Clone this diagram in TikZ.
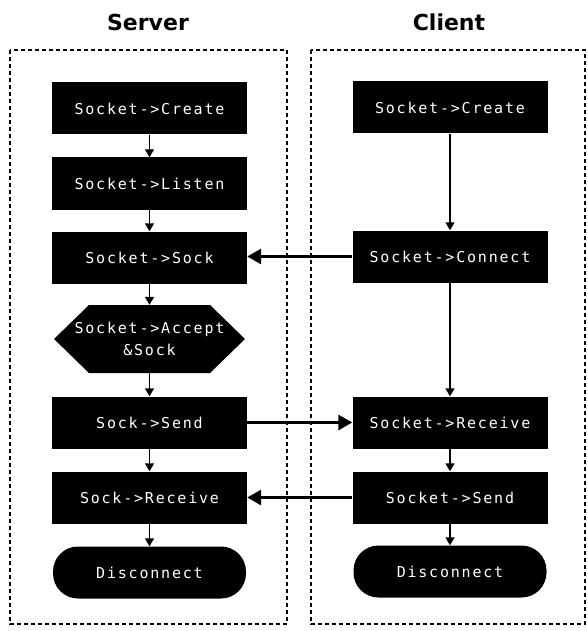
\documentclass[tikz,border=0pt]{standalone}
\usepackage{fontspec}
\usetikzlibrary{arrows.meta}
\newfontfamily\boxfont[LetterSpace=12]{DejaVu Sans Mono}
\newfontfamily\titlefont{DejaVu Sans}
\tikzset{
  stepbox/.style={fill=black, text=white, minimum width=195pt, minimum height=52pt, inner sep=0pt, align=center, font=\boxfont\fontsize{15pt}{17pt}\selectfont},
  endbox/.style={stepbox, rounded corners=25pt, minimum width=193pt},
  hexbox/.style={stepbox, fill=none, minimum width=191pt, minimum height=68pt, font=\boxfont\fontsize{15pt}{22pt}\selectfont},
  titletext/.style={font=\titlefont\bfseries\fontsize{22pt}{24pt}\selectfont},
  lane/.style={draw=black, dashed, dash pattern=on 4pt off 3pt, line width=1.1pt},
  flow/.style={line width=1.4pt, -{Triangle[length=8pt,width=9pt]}},
  msg/.style={line width=3pt, -{Triangle[length=14pt,width=15pt]}}
}
\begin{document}
\begin{tikzpicture}[x=1pt,y=-1pt]
\useasboundingbox (0,0) rectangle (587,631);
% lanes
\draw[lane] (10,50) rectangle (287,624);
\draw[lane] (311,50) rectangle (585,624);
\node[titletext] (tserver) at (148,22) {Server};
\node[titletext] (tclient) at (449,22) {Client};
% server
\node[stepbox] (screate) at (149.5,108.5) {Socket->Create};
\node[stepbox] (slisten) at (149.5,183.5) {Socket->Listen};
\node[stepbox] (ssock) at (149.5,257.5) {Socket->Sock};
\fill[black] (54,339) -- (89,305) -- (210,305) -- (245,339) -- (210,373) -- (89,373) -- cycle;
\node[hexbox] (saccept) at (149.5,339) {Socket->Accept\\\&Sock};
\node[stepbox] (ssend) at (149.5,422.5) {Sock->Send};
\node[stepbox] (srecv) at (149.5,497.5) {Sock->Receive};
\node[endbox] (sdisc) at (149.5,572.5) {Disconnect};
% client
\node[stepbox] (ccreate) at (450,107.5) {Socket->Create};
\node[stepbox] (cconn) at (450,256.5) {Socket->Connect};
\node[stepbox] (crecv) at (450,422.5) {Socket->Receive};
\node[stepbox] (csend) at (450,497.5) {Socket->Send};
\node[endbox] (cdisc) at (450,571.5) {Disconnect};
% flows
\draw[flow] (screate) -- (slisten);
\draw[flow] (slisten) -- (ssock);
\draw[flow] (ssock) -- (saccept);
\draw[flow] (saccept) -- (ssend);
\draw[flow] (ssend) -- (srecv);
\draw[flow] (srecv) -- (sdisc);
\draw[flow] (ccreate) -- (cconn);
\draw[flow] (cconn) -- (crecv);
\draw[flow] (crecv) -- (csend);
\draw[flow] (csend) -- (cdisc);
% messages
\draw[msg] (cconn.west) -- (cconn.west -| ssock.east);
\draw[msg] (ssend.east) -- (ssend.east -| crecv.west);
\draw[msg] (csend.west) -- (csend.west -| srecv.east);
\end{tikzpicture}
\end{document}
